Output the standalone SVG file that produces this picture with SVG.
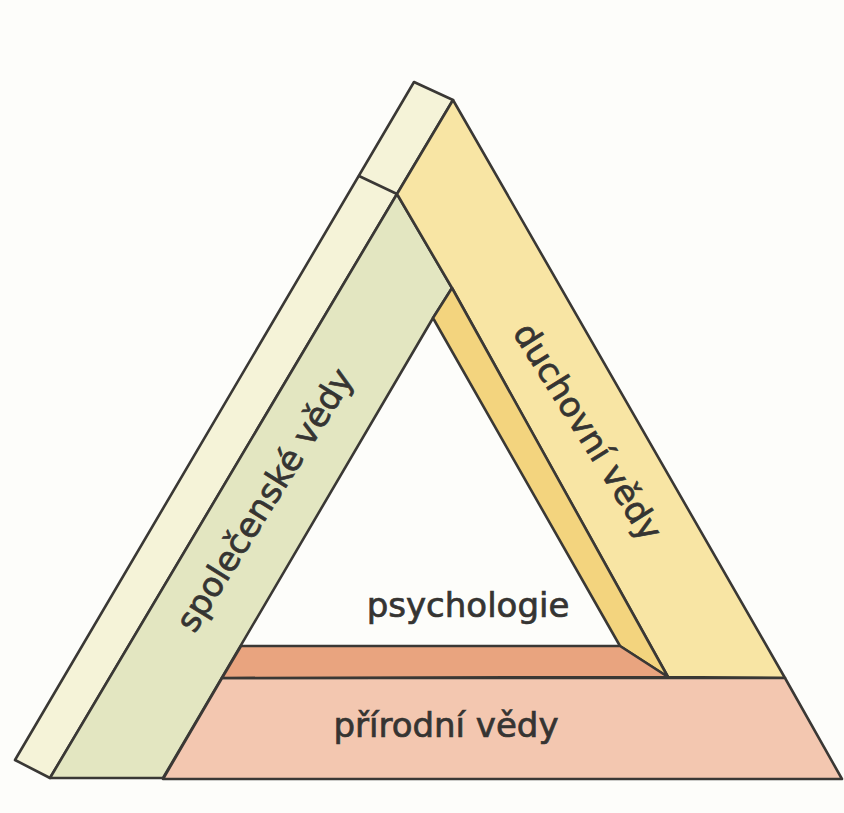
<svg xmlns="http://www.w3.org/2000/svg" width="844" height="813" viewBox="0 0 844 813">
  <style>
    .edge { stroke: #3a3835; stroke-width: 2.6; stroke-linejoin: round; stroke-linecap: round; }
    .lbl { font-family: "DejaVu Sans", "Liberation Sans", sans-serif; font-size: 34px; fill: #353432; stroke: #353432; stroke-width: 0.7; text-anchor: middle; }
  </style>
  <rect x="0" y="0" width="844" height="813" fill="#fdfdfa"/>
  <g id="spolecenske-vedy">
    <polygon class="edge" fill="#f5f3d8" points="414,82 453,100 397,194 50,778 15,760"/>
    <line class="edge" x1="359" y1="176" x2="397" y2="194"/>
    <polygon class="edge" fill="#e3e6c1" points="397,194 452,288 433,318 163,778 50,778"/>
    <text class="lbl" transform="translate(274.5,506) rotate(-58)">společenské vědy</text>
  </g>
  <g id="duchovni-vedy">
    <polygon class="edge" fill="#f8e5a4" points="453,100 785,678 668,677 452,288 397,194"/>
    <polygon class="edge" fill="#f3d47e" points="452,288 668,677 620,646 433,318"/>
    <text class="lbl" transform="translate(578,438) rotate(58)">duchovní vědy</text>
  </g>
  <g id="prirodni-vedy">
    <polygon class="edge" fill="#f3c7b0" points="222,678 785,678 842,779 163,779"/>
    <polygon class="edge" fill="#e9a47f" points="241,646 620,646 668,677 222,678"/>
    <text class="lbl" x="446" y="737">přírodní vědy</text>
  </g>
  <g id="psychologie">
    <text class="lbl" x="468" y="617">psychologie</text>
  </g>
  <g id="connectors"/>
</svg>
